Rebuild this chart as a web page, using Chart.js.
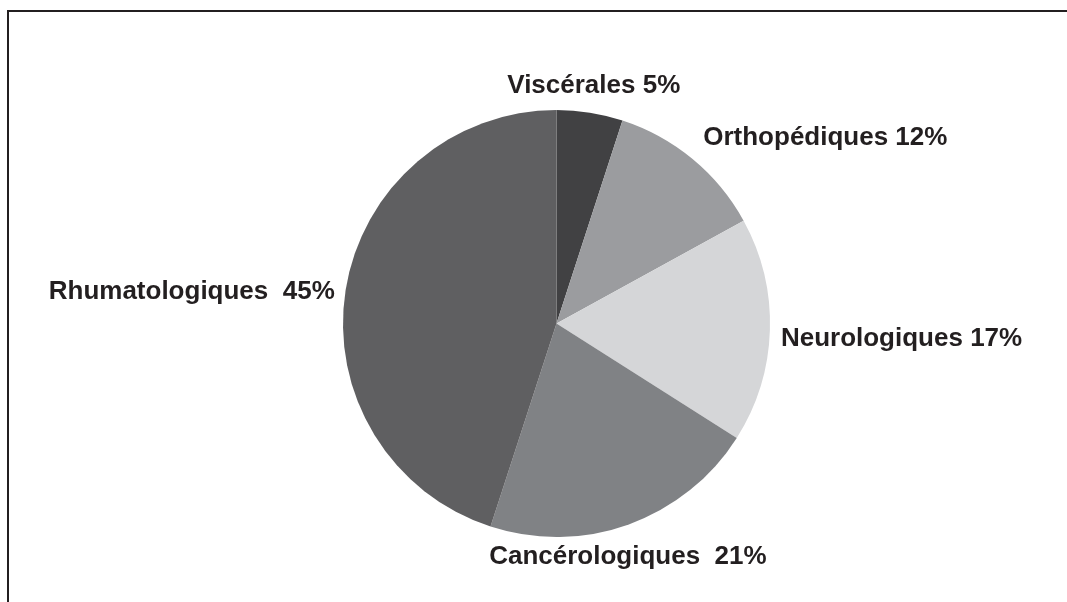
<!DOCTYPE html>
<html lang="fr">
<head>
  <meta charset="UTF-8" />
  <title>Répartition des pathologies</title>
  <script src="https://cdn.jsdelivr.net/npm/chart.js"></script>
  <style>
    html, body {
      margin: 0;
      height: 100%;
      background: #ffffff;
      overflow: hidden;
    }
    .frame {
      position: absolute;
      left: 7px;
      top: 10px;
      width: 2000px;
      height: 2000px;
      border-top: 2px solid #231f20;
      border-left: 2px solid #231f20;
    }
    #wrap {
      position: absolute;
      left: 0;
      top: 0;
      width: 1067px;
      height: 602px;
    }
  </style>
</head>
<body>
  <div class="frame"></div>
  <div id="wrap"><canvas id="pieChart" width="1067" height="602"></canvas></div>

  <script>
    const categories = ['Viscérales', 'Orthopédiques', 'Neurologiques', 'Cancérologiques', 'Rhumatologiques'];
    const percents = [5, 12, 17, 21, 45];
    const separators = [' ', ' ', ' ', '  ', '  '];
    const sliceColors = ['#414143', '#9b9c9f', '#d5d6d8', '#808285', '#5f5f61'];

    // label placement: align + nudge from a point just outside each slice
    const labelStyle = [
      { align: 'center', dx: 2, dy: -8 },
      { align: 'left', dx: 3, dy: -5 },
      { align: 'left', dx: -1, dy: 15 },
      { align: 'center', dx: -5, dy: 28 },
      { align: 'right', dx: 1, dy: 11 }
    ];

    const outsideLabels = {
      id: 'outsideLabels',
      afterDatasetsDraw(chart) {
        const ctx = chart.ctx;
        const arcs = chart.getDatasetMeta(0).data;
        ctx.save();
        ctx.font = 'bold 26px "Liberation Sans", Arial, sans-serif';
        ctx.fillStyle = '#231f20';
        ctx.textBaseline = 'alphabetic';
        arcs.forEach((arc, i) => {
          const mid = (arc.startAngle + arc.endAngle) / 2;
          const r = arc.outerRadius + 12;
          const x = arc.x + Math.cos(mid) * r + labelStyle[i].dx;
          const y = arc.y + Math.sin(mid) * r + labelStyle[i].dy;
          ctx.textAlign = labelStyle[i].align;
          ctx.fillText(categories[i] + separators[i] + percents[i] + '%', x, y);
        });
        ctx.restore();
      }
    };

    new Chart(document.getElementById('pieChart'), {
      type: 'pie',
      data: {
        labels: categories,
        datasets: [{
          data: percents,
          backgroundColor: sliceColors,
          borderWidth: 0
        }]
      },
      options: {
        responsive: false,
        animation: false,
        layout: { padding: { left: 343, right: 297, top: 110, bottom: 65 } },
        plugins: {
          legend: { display: false },
          tooltip: { enabled: false }
        }
      },
      plugins: [outsideLabels]
    });
  </script>
</body>
</html>
